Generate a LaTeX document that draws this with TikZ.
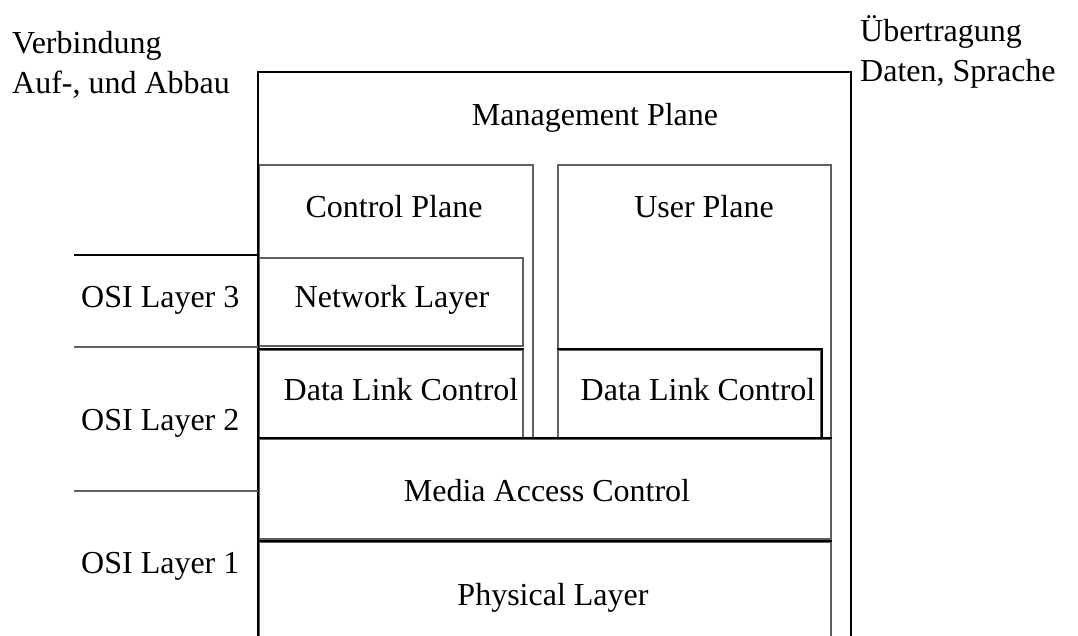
\documentclass[tikz,border=0pt]{standalone}
\usepackage{fontspec}
\setmainfont{Liberation Serif}
\definecolor{edgegray}{RGB}{95,95,95}
\begin{document}
\begin{tikzpicture}[x=1pt,y=-1pt,
  box/.style={draw=edgegray,line width=1.8pt,rectangle,inner sep=0pt,anchor=north west},
  strong/.style={draw=black,line width=2.3pt},
  thin/.style={draw=edgegray,line width=1.8pt},
  lbl/.style={inner sep=0pt,anchor=base,font=\fontsize{32}{40}\selectfont},
  lblw/.style={lbl,anchor=base west}]
\useasboundingbox (0,0) rectangle (1078,635);
\clip (0,0) rectangle (1078,635);

% protocol blocks
\node[box,minimum width=274pt,minimum height=273pt] (cp)  at (258,164) {};
\node[box,minimum width=273pt,minimum height=273pt] (up)  at (557,164) {};
\node[box,minimum width=264pt,minimum height=88pt]  (nl)  at (258,257) {};
\node[box,minimum width=264pt,minimum height=88pt]  (dlA) at (258,349) {};
\node[box,minimum width=263pt,minimum height=88pt]  (dlB) at (557,349) {};
\node[box,minimum width=572pt,minimum height=100pt] (mac) at (258,438) {};
\node[box,minimum width=572pt,minimum height=110pt] (phy) at (258,541) {};

% outer management frame (open at the bottom)
\coordinate (oBL) at (258,650);
\coordinate (oTL) at (258,72);
\coordinate (oTR) at (851,72);
\coordinate (oBR) at (851,650);
\draw[strong] (oBL) -- (oTL) -- (oTR) -- (oBR);

% heavier edges
\draw[strong] (dlA.north west) -- (dlA.north east);
\draw[strong] (dlB.north west) -- (dlB.north east) -- (dlB.south east);
\draw[strong,line width=2.8pt] (phy.north west) -- (phy.north east);
\draw[draw=black,line width=1.8pt] (mac.north west) -- (mac.north east);

% OSI layer separators
\coordinate (s3) at (74,255);
\coordinate (s2) at (74,347);
\coordinate (s1) at (74,491);
\draw[strong] (s3) -- (oTL |- s3);
\draw[thin] (s2) -- (oTL |- s2);
\draw[thin] (s1) -- (oTL |- s1);

% labels
\node[lbl] (tMgmt) at (595,125) {Management Plane};
\node[lbl] (tCtrl) at (394,217) {Control Plane};
\node[lbl] (tUser) at (704,217) {User Plane};
\node[lbl] (tNet)  at (392,307) {Network Layer};
\node[lbl] (tDlA)  at (401,400) {Data Link Control};
\node[lbl] (tDlB)  at (698,400) {Data Link Control};
\node[lbl] (tMac)  at (547,501) {Media Access Control};
\node[lbl] (tPhy)  at (553,605) {Physical Layer};

\node[lblw] (osi3) at (81,307) {OSI Layer 3};
\node[lblw] (osi2) at (81,430) {OSI Layer 2};
\node[lblw] (osi1) at (81,573) {OSI Layer 1};

\node[lblw] (vb1) at (12,53) {Verbindung};
\node[lblw] (vb2) at (12,93) {Auf-, und Abbau};
\node[lblw] (ub1) at (860,41) {Übertragung};
\node[lblw] (ub2) at (860,81) {Daten, Sprache};
\end{tikzpicture}
\end{document}
